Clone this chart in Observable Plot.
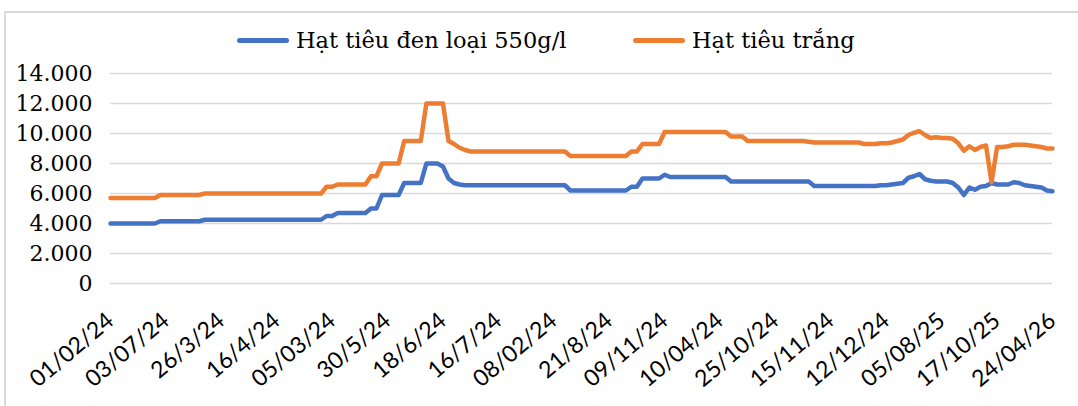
<!DOCTYPE html>
<html>
<head>
<meta charset="utf-8">
<script src="https://cdn.jsdelivr.net/npm/d3@7"></script>
<script src="https://cdn.jsdelivr.net/npm/@observablehq/plot@0.6"></script>
<style>
  html, body { margin: 0; padding: 0; background: #fff; }
  #wrap { position: relative; width: 1078px; height: 406px; overflow: hidden; background: #fff; }
  #frame { position: absolute; left: 4px; top: 11px; width: 1200px; height: 600px; border: 2px solid #d9d9d9; box-sizing: border-box; }
  #chart { position: absolute; left: 0; top: 0; }
  .leg { position: absolute; top: 25px; height: 30px; display: flex; align-items: center; gap: 7px;
         font-family: "DejaVu Serif", serif; font-size: 22.5px; color: #000; white-space: nowrap; }
  .sw { width: 52px; height: 5px; border-radius: 3px; }
</style>
</head>
<body>
<div id="wrap">
  <div id="frame"></div>
  <div id="chart"></div>
  <div class="leg" style="left:237px"><div class="sw" style="background:#4472C4"></div><span id="l1"></span></div>
  <div class="leg" style="left:633px"><div class="sw" style="background:#ED7D31"></div><span id="l2"></span></div>
</div>
<script>
// ---- data ----
const seriesNames = ["Hạt tiêu đen loại 550g/l", "Hạt tiêu trắng"];
const seriesColors = ["#4472C4", "#ED7D31"];

const tickLabels = ["01/02/24","03/07/24","26/3/24","16/4/24","05/03/24","30/5/24","18/6/24","16/7/24","08/02/24",
  "21/8/24","09/11/24","10/04/24","25/10/24","15/11/24","12/12/24","05/08/25","17/10/25","24/04/26"];
const labelEvery = 10;

const blackPepper = [
  4000,4000,4000,4000,4000,4000,4000,4000,4000,
  4150,4150,4150,4150,4150,4150,4150,4150,
  4250,4250,4250,4250,4250,4250,4250,4250,4250,4250,
  4250,4250,4250,4250,4250,4250,4250,4250,4250,4250,
  4250,4250,
  4500,4500,
  4700,4700,4700,4700,4700,4700,
  5000,5000,
  5900,5900,5900,5900,
  6700,6700,6700,6700,
  8000,8000,8000,
  7800,7000,6700,6600,
  6550,6550,6550,6550,6550,6550,6550,6550,6550,6550,
  6550,6550,6550,6550,6550,6550,6550,6550,6550,
  6200,6200,6200,6200,6200,6200,6200,6200,6200,6200,6200,
  6450,6450,
  7000,7000,7000,7000,
  7250,
  7100,7100,7100,7100,7100,7100,7100,7100,7100,7100,7100,
  6800,6800,6800,6800,6800,6800,6800,6800,6800,6800,
  6800,6800,6800,6800,6800,
  6500,6500,6500,6500,6500,6500,6500,6500,6500,6500,6500,6500,
  6550,6550,6600,6650,6700,7050,7150,7300,6950,6850,
  6800,6800,6800,6700,6400,5900,6400,6250,6450,6500,
  6700,6600,6600,6600,6750,6700,6550,6500,6450,6400,
  6200,6150
];

const whitePepper = [
  5700,5700,5700,5700,5700,5700,5700,5700,5700,
  5900,5900,5900,5900,5900,5900,5900,5900,
  6000,6000,6000,6000,6000,6000,6000,6000,6000,6000,
  6000,6000,6000,6000,6000,6000,6000,6000,6000,6000,
  6000,6000,
  6450,6450,
  6600,6600,6600,6600,6600,6600,
  7150,7150,
  8000,8000,8000,8000,
  9500,9500,9500,9500,
  12000,12000,12000,12000,
  9500,9300,9050,8900,
  8800,8800,8800,8800,8800,8800,8800,8800,8800,8800,
  8800,8800,8800,8800,8800,8800,8800,8800,
  8500,8500,8500,8500,8500,8500,8500,8500,8500,8500,8500,
  8800,8800,
  9300,9300,9300,9300,
  10100,10100,10100,10100,10100,10100,10100,10100,10100,10100,10100,10100,
  9800,9800,9800,
  9500,9500,9500,9500,9500,9500,9500,9500,9500,9500,9500,
  9450,
  9400,9400,9400,9400,9400,9400,9400,9400,9400,
  9300,9300,9300,
  9350,9350,9400,9500,9600,9900,10050,10150,9900,9700,
  9750,9700,9700,9650,9350,8850,9150,8900,9100,9200,
  6750,9100,9100,9150,9250,9250,9250,9200,9150,9100,
  9000,9000
];

const yTicks = [0, 2000, 4000, 6000, 8000, 10000, 12000, 14000];

// ---- checks ----
const N = (tickLabels.length - 1) * labelEvery + 1;
if (blackPepper.length !== N) throw new Error("blackPepper length " + blackPepper.length + " != " + N);
if (whitePepper.length !== N) throw new Error("whitePepper length " + whitePepper.length + " != " + N);

document.getElementById("l1").textContent = seriesNames[0];
document.getElementById("l2").textContent = seriesNames[1];

const rows = [];
[blackPepper, whitePepper].forEach((arr, s) => arr.forEach((v, i) => rows.push({i, v, s: seriesNames[s]})));

const fmt = d3.formatLocale({decimal: ",", thousands: ".", grouping: [3], currency: ["", ""]}).format(",");
const xTicks = tickLabels.map((_, k) => k * labelEvery);

const chart = Plot.plot({
  width: 1078,
  height: 406,
  marginLeft: 110,
  marginRight: 26,
  marginTop: 73,
  marginBottom: 123,
  style: {background: "transparent", overflow: "visible"},
  x: {domain: [0, N - 1]},
  y: {domain: [0, 14000]},
  color: {domain: seriesNames, range: seriesColors},
  marks: [
    Plot.gridY(yTicks, {stroke: "#d9d9d9", strokeOpacity: 1, strokeWidth: 1.5}),
    Plot.axisY(yTicks, {tickSize: 0, tickPadding: 18, tickFormat: fmt, fontSize: 22,
      fontFamily: "DejaVu Serif", fill: "#000", label: null}),
    Plot.axisX(xTicks, {tickSize: 0, tickPadding: 34, tickRotate: -40,
      tickFormat: i => tickLabels[i / labelEvery], fontSize: 23, fontFamily: "Lato", fill: "#000", label: null}),
    Plot.line(rows, {x: "i", y: "v", z: "s", stroke: "s", strokeWidth: 4.5,
      strokeLinejoin: "round", strokeLinecap: "round"})
  ]
});
document.getElementById("chart").appendChild(chart);
</script>
</body>
</html>
